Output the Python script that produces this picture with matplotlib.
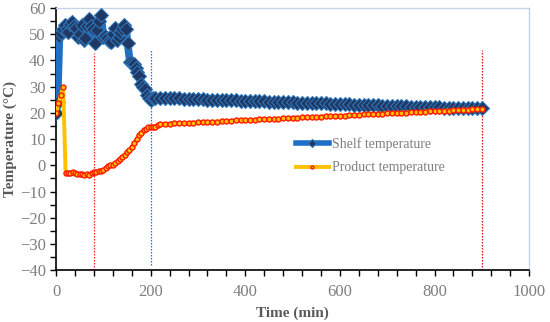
import matplotlib
matplotlib.use("Agg")
import matplotlib.pyplot as plt
from matplotlib.ticker import MultipleLocator

plt.rcParams['font.family'] = ['Liberation Serif', 'DejaVu Serif']

shelf_time = [0, 3, 7, 10, 14, 18, 22, 26, 30, 34, 38, 42, 46, 50, 54, 58, 62, 66, 70, 74,
              78, 82, 86, 90, 95, 100, 104, 108, 112, 116, 120, 124, 128, 132, 136, 140, 144,
              148, 151, 156, 160, 164, 168, 172, 176, 180, 184, 188, 192, 196, 200, 205,
              210, 220, 230, 240, 250, 260, 270, 280, 290, 300, 310, 320, 330, 340, 350, 360,
              370, 380, 390, 400, 410, 420, 430, 440, 450, 460, 470, 480, 490, 500, 510, 520,
              530, 540, 550, 560, 570, 580, 590, 600, 610, 620, 630, 640, 650, 660, 670, 680,
              690, 700, 710, 720, 730, 740, 750, 760, 770, 780, 790, 800, 810, 820, 830, 840,
              850, 860, 870, 880, 890, 900]
shelf_temp = [20, 24, 49.5, 50.5, 52, 53.5, 52, 51, 54, 54.5, 53, 52.5, 49, 50, 53.5, 48, 48.5,
              53, 56, 53, 52, 46.5, 51.5, 55, 57.3, 49, 49.5, 48.5, 47.5, 47, 50, 52.5, 48, 49,
              51, 52, 53.5, 52, 46.8, 39.5, 39, 38.5, 37, 35.5, 34, 31, 30, 29, 27, 25.5, 24.8,
              25.5,
              25.8, 25.8, 25.7, 25.6, 25.6, 25.5, 25.4, 25.4, 25.3, 25.3, 25.2, 25.1, 25.1, 25.0,
              24.9, 24.9, 24.8, 24.8, 24.7, 24.6, 24.6, 24.5, 24.4, 24.4, 24.3, 24.3, 24.2, 24.1,
              24.1, 24.0, 23.9, 23.9, 23.8, 23.8, 23.7, 23.6, 23.6, 23.5, 23.4, 23.4, 23.3, 23.3,
              23.2, 23.1, 23.1, 23.0, 22.9, 22.9, 22.8, 22.8, 22.7, 22.6, 22.6, 22.5, 22.4, 22.4,
              22.3, 22.3, 22.2, 22.1, 22.1, 22.0, 22.0, 21.9, 21.9, 21.9, 21.8, 21.8, 21.8, 21.7]

product_time = [0, 5, 10, 15, 20, 25, 30, 35, 40, 45, 50, 55, 60, 65, 70, 75, 80, 85, 90, 95,
                100, 105, 110, 115, 120, 125, 130, 135, 140, 145, 150, 155, 160, 165, 170, 175,
                180, 185, 190, 195, 200, 205, 210, 215,
                220, 230, 240, 250, 260, 270, 280, 290, 300, 310, 320, 330, 340, 350, 360,
                370, 380, 390, 400, 410, 420, 430, 440, 450, 460, 470, 480, 490, 500, 510, 520,
                530, 540, 550, 560, 570, 580, 590, 600, 610, 620, 630, 640, 650, 660, 670, 680,
                690, 700, 710, 720, 730, 740, 750, 760, 770, 780, 790, 800, 810, 820, 830, 840,
                850, 860, 870, 880, 890, 900]
product_temp = [20, 23.6, 26.8, 29.7, -2.9, -2.9, -2.8, -2.7, -2.9, -3.2, -3.4, -3.2, -3.6, -3.5,
                -3.6, -3.0, -2.7, -2.6, -2.2, -2.0, -1.8, -1.0, -0.3, 0.0, 0.3, 0.8, 1.6, 2.5,
                3.2, 4.0, 5.0, 5.8, 7.0, 8.4, 10.0, 11.5, 12.5, 13.3, 14.0, 14.6, 14.7, 14.6,
                14.6, 15.5,
                15.7, 15.8, 15.9, 16.0, 16.0, 16.1, 16.2, 16.3, 16.4, 16.5, 16.6, 16.6, 16.7,
                16.8, 16.9, 17.0, 17.1, 17.2, 17.2, 17.3, 17.4, 17.5, 17.6, 17.7, 17.7, 17.8,
                17.9, 18.0, 18.1, 18.2, 18.3, 18.3, 18.4, 18.5, 18.6, 18.7, 18.8, 18.9, 18.9,
                19.0, 19.1, 19.2, 19.3, 19.4, 19.5, 19.5, 19.6, 19.7, 19.8, 19.9, 20.0, 20.1,
                20.1, 20.2, 20.3, 20.4, 20.5, 20.6, 20.6, 20.7, 20.8, 20.9, 21.0, 21.1, 21.2,
                21.2, 21.3, 21.4, 21.5]

vlines_x = [80, 200, 900]
vlines_top = [43, 44, 44]
vlines_bottom = [-40, -38, -40]
vlines_color = ['#ff2020', '#2e75b6', '#d01010']

gray = '#595959'
tick_gray = '#7f7f7f'

fig = plt.figure(figsize=(5.5, 3.22), dpi=100)
ax = fig.add_axes([0.102, 0.161, 0.860, 0.814])

for x, lo, hi, c in zip(vlines_x, vlines_bottom, vlines_top, vlines_color):
    ax.plot([x, x], [lo, hi], color=c, linestyle=(0, (1.2, 1.2)), linewidth=0.9, zorder=1)

ax.plot(shelf_time, shelf_temp, color='#1f6fc6', linewidth=5.5, marker='D', markersize=7.5,
        markerfacecolor='#203864', markeredgecolor='#2e75b6', markeredgewidth=0.8,
        label='Shelf temperature', zorder=3)
ax.plot(product_time, product_temp, color='#ffc000', linewidth=2.8, marker='o', markersize=3.6,
        markerfacecolor='#ffc000', markeredgecolor='#ff1a00', markeredgewidth=1.0,
        label='Product temperature', zorder=4)

ax.set_xlim(0, 1000)
ax.set_ylim(-40, 60)
ax.xaxis.set_major_locator(MultipleLocator(200))
ax.xaxis.set_minor_locator(MultipleLocator(40))
ax.yaxis.set_major_locator(MultipleLocator(10))
ax.yaxis.set_minor_locator(MultipleLocator(5))
ax.tick_params(axis='both', which='both', direction='out', color='black', width=1)
ax.tick_params(axis='both', which='major', length=4, labelsize=12, labelcolor=tick_gray)
ax.tick_params(axis='both', which='minor', length=4)
ax.tick_params(axis='x', pad=6)

for s in ['left', 'bottom']:
    ax.spines[s].set_color('black')
    ax.spines[s].set_linewidth(1.2)
for s in ['top', 'right']:
    ax.spines[s].set_color('#c5d3e8')
    ax.spines[s].set_linewidth(1.0)

ax.set_xlabel('Time (min)', fontsize=11, fontweight='bold', color=gray, labelpad=5)
ax.set_ylabel('Temperature (°C)', fontsize=11, fontweight='bold', color=gray, labelpad=2)

leg = ax.legend(loc='upper left', bbox_to_anchor=(0.48, 0.555), frameon=False, fontsize=10,
                handlelength=2.4, handletextpad=0.2, labelspacing=0.75, markerscale=0.6)
for t in leg.get_texts():
    t.set_color(tick_gray)
for h in leg.get_lines():
    h.set_linewidth(min(h.get_linewidth(), 4))

fig.savefig('out.png', dpi=100)
